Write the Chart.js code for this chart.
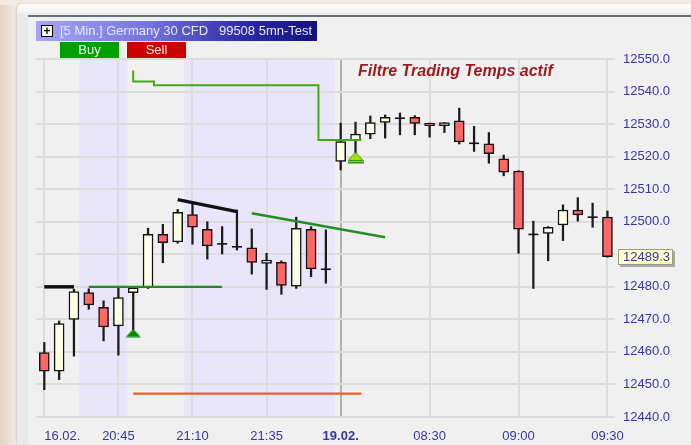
<!DOCTYPE html>
<html>
<head>
<meta charset="utf-8">
<script src="https://cdn.jsdelivr.net/npm/chart.js@4.4.1/dist/chart.umd.min.js"></script>
<style>
  html, body { margin: 0; padding: 0; width: 691px; height: 445px; overflow: hidden; }
  body {
    position: relative;
    background: linear-gradient(90deg, #e3d3c8 0px, #eddfd7 9px, #f4ebe6 16px);
    font-family: "Liberation Sans", Arial, sans-serif;
  }
  #topstrip { position: absolute; left: 0; top: 0; right: 0; height: 5px; background: #f3e9e5; }
  #frame {
    position: absolute; left: 17px; top: 4px; right: 0; bottom: 0;
    background: linear-gradient(#fefefe, #f4f4f4 8px, #e9e9e9 11px);
    border-top-left-radius: 5px;
    box-shadow: -1px 0 2px rgba(120, 100, 90, 0.25);
  }
  #topline { position: absolute; left: 28px; top: 15px; right: 0; height: 2px; background: #68727b; }
  #panel { position: absolute; left: 28px; top: 17px; right: 0; bottom: 0; background: #f0f0f0; }
  #titlebar {
    position: absolute; left: 36px; top: 21px; width: 281px; height: 20px;
    background: linear-gradient(90deg, #a6a6f3 0%, #7474dc 40%, #2a2aa0 75%, #12127c 100%);
    color: #e6e6ff; font-size: 13px; line-height: 20px; white-space: pre;
  }
  #titlebar .txt { position: absolute; left: 24px; top: 0; }
  #plus {
    position: absolute; left: 5px; top: 4px; width: 10px; height: 10px;
    background: #fff; border: 1px solid #000; color: #000;
    font-size: 12px; line-height: 10px; text-align: center; font-weight: bold;
  }
  .btn {
    position: absolute; top: 42px; height: 16px; width: 59px;
    font-size: 13px; line-height: 16px; text-align: center; color: #f0fff0;
  }
  #buy { left: 60px; background: #00a000; }
  #sell { left: 127px; background: #cc0000; color: #fff0f0; }
  #filtre {
    position: absolute; left: 358px; top: 62px;
    font-size: 16px; font-weight: bold; font-style: italic; color: #9c1a1e;
  }
  canvas { position: absolute; left: 0; top: 0; }
</style>
</head>
<body>
<div id="topstrip"></div>
<div id="frame"></div>
<div id="topline"></div>
<div id="panel"></div>
<canvas id="chart" width="691" height="445"></canvas>
<div id="titlebar"><div id="plus">+</div><span class="txt">[5 Min.] Germany 30 CFD   99508 5mn-Test</span></div>
<div class="btn" id="buy">Buy</div>
<div class="btn" id="sell">Sell</div>
<div id="filtre">Filtre Trading Temps actif</div>

<script>
// Bougies 5 min : 16.02 soir puis 19.02 matin
const times = ['20:20', '20:25', '20:30', '20:35', '20:40', '20:45', '20:50', '20:55', '21:00', '21:05',
               '21:10', '21:15', '21:20', '21:25', '21:30', '21:35', '21:40', '21:45', '21:50', '21:55',
               '08:00', '08:05', '08:10', '08:15', '08:20', '08:25', '08:30', '08:35', '08:40', '08:45',
               '08:50', '08:55', '09:00', '09:05', '09:10', '09:15', '09:20', '09:25', '09:30'];

const opens  = [12459.8, 12454.1, 12470.0, 12478.2, 12473.7, 12468.0, 12478.2, 12479.8, 12496.1, 12493.8,
                12502.2, 12497.7, 12493.2, 12492.3, 12492.0, 12487.2, 12487.5, 12480.2, 12497.7, 12485.4,
                12518.5, 12524.9, 12526.9, 12530.5, 12531.8, 12532.1, 12530.3, 12529.5, 12531.0, 12524.1,
                12523.9, 12519.3, 12515.6, 12496.1, 12496.4, 12499.0, 12503.6, 12501.4, 12501.4];
const highs  = [12462.9, 12469.5, 12479.3, 12479.4, 12475.7, 12479.8, 12480.0, 12498.0, 12499.2, 12503.8,
                12505.7, 12500.0, 12498.5, 12503.6, 12497.8, 12490.3, 12488.0, 12501.4, 12498.5, 12497.5,
                12530.3, 12530.6, 12532.5, 12532.8, 12533.4, 12532.6, 12530.3, 12530.5, 12534.9, 12529.3,
                12527.4, 12520.5, 12515.7, 12500.2, 12498.5, 12505.2, 12507.4, 12505.7, 12503.3];
const lows   = [12448.4, 12451.5, 12458.7, 12473.1, 12463.4, 12459.0, 12466.8, 12479.5, 12487.4, 12493.4,
                12493.1, 12488.5, 12490.1, 12491.3, 12483.9, 12479.2, 12477.7, 12479.5, 12483.1, 12481.1,
                12515.9, 12521.1, 12525.5, 12525.7, 12526.7, 12526.7, 12526.0, 12527.4, 12523.9, 12521.6,
                12518.0, 12514.1, 12490.3, 12479.5, 12488.0, 12494.2, 12500.2, 12498.3, 12489.1];
const closes = [12454.1, 12468.7, 12478.5, 12474.4, 12467.7, 12476.7, 12479.7, 12496.1, 12493.6, 12502.9,
                12498.3, 12492.6, 12493.2, 12492.3, 12487.5, 12488.2, 12480.4, 12498.0, 12485.5, 12485.4,
                12524.6, 12526.9, 12530.5, 12532.1, 12531.8, 12530.2, 12529.5, 12530.5, 12524.5, 12524.1,
                12520.9, 12515.2, 12497.7, 12496.1, 12498.3, 12503.6, 12502.1, 12501.4, 12489.3];

// Axe des temps
const xTickIdx  = [0, 5, 10, 15, 20, 26, 32, 38];
const xTickText = ['16.02.', '20:45', '21:10', '21:35', '19.02.', '08:30', '09:00', '09:30'];
const dayBreak = 20;

// Axe des prix
const yMin = 12440, yMax = 12550, yStep = 10;
const lastPrice = 12489.3;

// Indicateurs
const blackLine1X = [0, 2],          blackLine1Y = [12480.0, 12480.0];
const blackLine2X = [9, 13],         blackLine2Y = [12506.8, 12503.1];
const greenFlatX  = [3, 12],         greenFlatY  = [12480.0, 12480.0];
const greenTrendX = [14, 23],        greenTrendY = [12502.6, 12495.2];
const stepX = [6, 7.4, 18.5, 20.5, 21.4];
const stepY = [12546.5, 12543.1, 12541.9, 12525.1, 12525.1];
const stopX = [6, 21.4],             stopY = [12447.2, 12447.2];
const buyIdx = 6,    buyVal = 12465.8;
const filtIdx = 21,  filtVal = 12519.6;
// Zones du filtre horaire (en indices de bougies)
const bandFrom = [2.35, 9.45];
const bandTo   = [5.6, 19.6];

const idx = times.map((t, i) => i);
const pts = (xs, ys) => xs.map((x, i) => ({ x: x, y: ys[i] }));

// Triangles de signal
function makeTriangle(fill, stroke, underline) {
    const c = document.createElement('canvas');
    c.width = 16; c.height = underline ? 12 : 9;
    const g = c.getContext('2d');
    g.beginPath();
    g.moveTo(0.5, 8.5); g.lineTo(8, 0.5); g.lineTo(15.5, 8.5); g.closePath();
    g.fillStyle = fill; g.fill();
    if (stroke) { g.strokeStyle = stroke; g.lineWidth = 1; g.stroke(); }
    if (underline) { g.fillStyle = stroke; g.fillRect(0, 9.5, 16, 2); }
    return c;
}
const buyTri = makeTriangle('#008a00', null, false);
const filtTri = makeTriangle('#a4e000', '#2a9a00', true);

const FONT = '"Liberation Sans", Arial, sans-serif';
const LABEL_COLOR = '#3636a6';

const bandsPlugin = {
    id: 'bands',
    beforeDraw(chart) {
        const { ctx, chartArea, scales } = chart;
        ctx.save();
        ctx.fillStyle = '#e9e5fb';
        bandFrom.forEach((f, i) => {
            const x0 = scales.x.getPixelForValue(f);
            const x1 = scales.x.getPixelForValue(bandTo[i]);
            ctx.fillRect(x0, chartArea.top, x1 - x0, chartArea.bottom - chartArea.top);
        });
        ctx.restore();
    }
};

const labelsPlugin = {
    id: 'labels',
    afterDraw(chart) {
        const { ctx, chartArea, scales } = chart;
        ctx.save();
        // libellés de l'axe du temps
        ctx.fillStyle = LABEL_COLOR;
        ctx.textBaseline = 'middle';
        xTickIdx.forEach((v, i) => {
            const x = scales.x.getPixelForValue(v);
            ctx.font = (v === dayBreak ? 'bold ' : '') + '13px ' + FONT;
            ctx.textAlign = i === 0 ? 'left' : 'center';
            ctx.fillText(xTickText[i], x, chartArea.bottom + 19);
        });
        // dernier cours
        const y = scales.y.getPixelForValue(lastPrice);
        const bx = chartArea.right + 3, by = Math.round(y) - 8;
        ctx.fillStyle = '#a9a9a9';
        ctx.fillRect(bx + 2, by + 2, 55, 16);
        ctx.fillStyle = '#ffffc6';
        ctx.fillRect(bx, by, 55, 16);
        ctx.strokeStyle = '#9a9a8a';
        ctx.lineWidth = 1;
        ctx.strokeRect(bx + 0.5, by + 0.5, 54, 15);
        ctx.fillStyle = LABEL_COLOR;
        ctx.font = '13px ' + FONT;
        ctx.textAlign = 'left';
        ctx.fillText(lastPrice.toFixed(1), chartArea.right + 8, by + 8.5);
        ctx.restore();
    }
};

const lineDs = (data, color, width, extra) => Object.assign({
    type: 'line', data: data, borderColor: color, borderWidth: width,
    pointRadius: 0, fill: false, order: -1
}, extra || {});

new Chart(document.getElementById('chart'), {
    type: 'bar',
    data: {
        datasets: [
            {   // mèches
                data: idx.map(i => ({ x: i, y: [lows[i], highs[i]] })),
                backgroundColor: '#1c1c1c',
                barThickness: 1.6,
                grouped: false,
                order: 2
            },
            {   // corps
                data: idx.filter(i => opens[i] !== closes[i]).map(i => ({ x: i, y: [opens[i], closes[i]] })),
                backgroundColor: c => (c.raw && c.raw.y[1] > c.raw.y[0]) ? '#ffffe6' : '#ff6666',
                borderColor: '#141414',
                borderWidth: 1.5,
                borderSkipped: false,
                barThickness: 10,
                grouped: false,
                order: 1
            },
            {   // dojis
                type: 'line',
                data: idx.filter(i => opens[i] === closes[i]).map(i => ({ x: i, y: closes[i] })),
                showLine: false,
                pointStyle: 'line',
                pointRadius: 5,
                pointBorderWidth: 1.6,
                pointBorderColor: '#141414',
                order: 0
            },
            lineDs(pts(blackLine1X, blackLine1Y), '#111111', 3.5),
            lineDs(pts(blackLine2X, blackLine2Y), '#111111', 3.5),
            lineDs(pts(greenFlatX, greenFlatY), '#1e8c1e', 2.2),
            lineDs(pts(greenTrendX, greenTrendY), '#238f23', 2.5),
            lineDs(pts(stepX, stepY), '#45aa12', 2, { stepped: 'after' }),
            lineDs(pts(stopX, stopY), '#e8602e', 2.2),
            {
                type: 'line', data: [{ x: buyIdx, y: buyVal }], showLine: false,
                pointStyle: buyTri, order: -2
            },
            {
                type: 'line', data: [{ x: filtIdx, y: filtVal }], showLine: false,
                pointStyle: filtTri, order: -2
            }
        ]
    },
    options: {
        responsive: false,
        animation: false,
        layout: { padding: { left: 36, top: 59, right: 0, bottom: 0 } },
        plugins: { legend: { display: false }, tooltip: { enabled: false } },
        scales: {
            x: {
                type: 'linear',
                min: -0.56,
                max: 38.51,
                offset: false,
                afterBuildTicks: s => { s.ticks = xTickIdx.map(v => ({ value: v })); },
                afterFit: s => { s.height = 28; },
                ticks: { display: false },
                grid: {
                    offset: false,
                    drawTicks: false,
                    lineWidth: 2,
                    color: c => (c.tick && c.tick.value === dayBreak) ? '#b2b2b2' : '#dcdcdc'
                },
                border: { display: false }
            },
            y: {
                position: 'right',
                min: yMin,
                max: yMax,
                afterFit: s => { s.width = 76; },
                ticks: {
                    stepSize: yStep,
                    padding: 8,
                    color: LABEL_COLOR,
                    font: { family: FONT, size: 13 },
                    callback: v => v === 12490 ? '' : v.toFixed(1)
                },
                grid: { drawTicks: false, lineWidth: 2, color: '#dcdcdc' },
                border: { display: false }
            }
        }
    },
    plugins: [bandsPlugin, labelsPlugin]
});
</script>
</body>
</html>
